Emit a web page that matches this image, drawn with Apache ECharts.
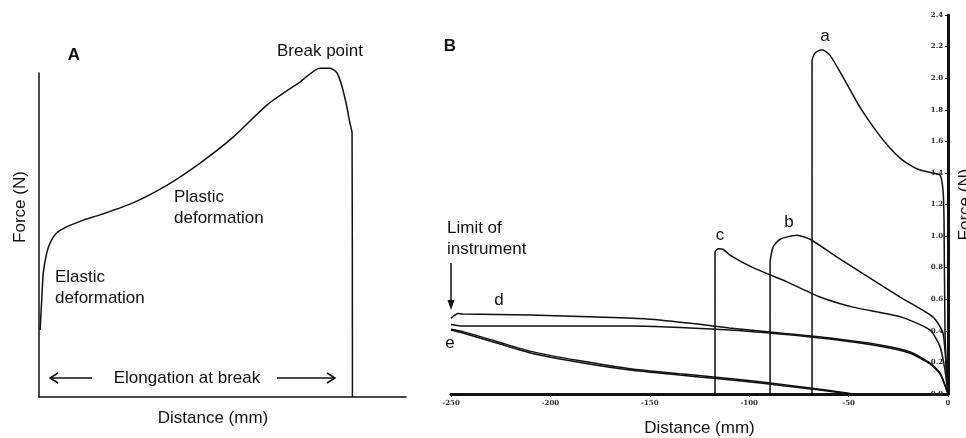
<!DOCTYPE html>
<html>
<head>
<meta charset="utf-8">
<script src="https://cdn.jsdelivr.net/npm/echarts@6/dist/echarts.min.js"></script>
<style>
  html, body { margin: 0; padding: 0; background: #fff; }
  #chart { width: 966px; height: 438px; }
</style>
</head>
<body>
<div id="chart"></div>
<script>
// ---------- Panel A (arbitrary units, no scale shown) ----------
const panelADistance = [0.3, 0.74, 1.17, 2.1, 3.0, 4.8, 7.5, 12.1, 16.6, 25.6, 34.9, 43.9, 52.9, 62.1, 71.1, 76.6, 79.3, 81.2, 82.6, 83.9, 84.7, 85.3, 85.4];
const panelAForce    = [20.7, 29.9, 38.3, 44.4, 47.5, 50.6, 52.5, 54.6, 56.2, 59.9, 65.4, 72.2, 80.2, 90.1, 97.2, 101.5, 101.5, 100, 95.7, 89.5, 84.6, 81.5, 0];

// ---------- Panel B (distance in mm, force in N) ----------
const curveA = [[-68.4, 0], [-68.4, 2.11], [-66.9, 2.16], [-63.4, 2.18], [-59.4, 2.146], [-52.8, 2.006], [-44.3, 1.816], [-35.7, 1.658], [-29.2, 1.557], [-24.1, 1.494], [-19.1, 1.449], [-14.1, 1.418], [-7.5, 1.40], [-4, 1.386], [-2.5, 1.29], [-2, 1.10], [-1.5, 0.386], [-0.5, 0.089], [0, 0]];
const curveB = [[-89.5, 0], [-89.5, 0.83], [-88, 0.93], [-84.5, 0.98], [-76, 1.006], [-69.4, 0.98], [-55.8, 0.867], [-39.2, 0.734], [-24.1, 0.614], [-7.5, 0.487], [-2.5, 0.386], [-0.5, 0.089], [0, 0]];
const curveC = [[-117.2, 0], [-117.2, 0.9], [-115.5, 0.92], [-113, 0.915], [-109.7, 0.88], [-98.1, 0.80], [-81, 0.71], [-64.4, 0.614], [-47.8, 0.55], [-24.1, 0.49], [-9, 0.405], [-4, 0.30], [-1.5, 0.15], [0, 0]];
const curveD = [[-250, 0.48], [-246.5, 0.51], [-244, 0.506], [-210, 0.50], [-176.6, 0.487], [-151.4, 0.475], [-126, 0.443], [-110, 0.418], [-84.5, 0.386], [-59.4, 0.354], [-34.2, 0.31], [-19, 0.266], [-9, 0.196], [-4, 0.133], [-1.5, 0.057], [0, 0]];
const curveDReturn = [[-250, 0.44], [-244, 0.43], [-210, 0.43], [-160, 0.43], [-110, 0.405], [-84.5, 0.38], [-59.4, 0.348], [-34.2, 0.303], [-19, 0.258], [-9, 0.19], [-4, 0.128], [-1.5, 0.052], [0, 0]];
const curveE = [[-250, 0.405], [-244, 0.386], [-227, 0.323], [-210, 0.26], [-185, 0.2], [-160, 0.152], [-135, 0.12], [-118, 0.1], [-94.6, 0.07], [-64.4, 0.025], [-49, 0]];
const curveEReturn = [[-250, 0.41], [-244, 0.395], [-227, 0.333], [-210, 0.27], [-185, 0.21], [-160, 0.16], [-135, 0.128], [-118, 0.108], [-94.6, 0.077], [-64.4, 0.03], [-49, 0.004]];

const bDistanceTicks = { min: -250, max: 0, interval: 50 };
const bForceTicks = { min: 0, max: 2.4, interval: 0.2 };

const FONT = 'Liberation Sans, Arial, sans-serif';
const INK = '#111';

const chart = echarts.init(document.getElementById('chart'), null, { renderer: 'canvas' });

function txt(text, x, y, opts) {
  opts = opts || {};
  return {
    type: 'text', x: x, y: y, rotation: opts.rotation || 0, z: 10,
    style: {
      text: text, fill: INK,
      font: (opts.bold ? 'bold ' : '') + (opts.size || 17) + 'px ' + FONT,
      textAlign: opts.align || 'left', textVerticalAlign: 'middle'
    }
  };
}
function poly(points, w) {
  return { type: 'polyline', z: 10, shape: { points: points }, style: { stroke: INK, lineWidth: w || 1.5, fill: null } };
}

const lineStyle = { color: INK, width: 1.5 };

const option = {
  animation: false,
  backgroundColor: '#fff',
  grid: [
    { left: 39, top: 73, width: 367, height: 324, containLabel: false, outerBoundsMode: 'none' },
    { left: 451, top: 15, width: 497, height: 379, containLabel: false, outerBoundsMode: 'none' }
  ],
  xAxis: [
    { gridIndex: 0, type: 'value', min: 0, max: 100,
      axisLine: { show: true, onZero: false, lineStyle: { color: INK, width: 1.5 } },
      axisTick: { show: false }, axisLabel: { show: false }, splitLine: { show: false } },
    { gridIndex: 1, type: 'value', min: bDistanceTicks.min, max: bDistanceTicks.max, interval: bDistanceTicks.interval,
      name: 'Distance (mm)', nameLocation: 'middle', nameGap: 26,
      nameTextStyle: { fontFamily: FONT, fontSize: 17, color: INK },
      axisLine: { show: true, onZero: false, lineStyle: { color: INK, width: 3 } },
      axisTick: { show: true, length: 3, lineStyle: { color: INK, width: 1 } },
      axisLabel: { show: true, fontFamily: 'DejaVu Serif, serif', fontWeight: 'bold', fontSize: 7, color: '#333', margin: 6,
        showMinLabel: true, showMaxLabel: true, formatter: v => String(v) },
      splitLine: { show: false } }
  ],
  yAxis: [
    { gridIndex: 0, type: 'value', min: 0, max: 100,
      axisLine: { show: true, onZero: false, lineStyle: { color: INK, width: 1.5 } },
      axisTick: { show: false }, axisLabel: { show: false }, splitLine: { show: false } },
    { gridIndex: 1, type: 'value', position: 'right', min: bForceTicks.min, max: bForceTicks.max, interval: bForceTicks.interval,
      name: 'Force (N)', nameLocation: 'middle', nameGap: 4, nameRotate: 90,
      nameTextStyle: { fontFamily: FONT, fontSize: 17, color: INK },
      axisLine: { show: true, onZero: false, lineStyle: { color: INK, width: 3 } },
      axisTick: { show: true, inside: true, length: 3, lineStyle: { color: INK, width: 1 } },
      axisLabel: { show: true, inside: true, fontFamily: 'DejaVu Serif, serif', fontWeight: 'bold', fontSize: 7, color: '#333', margin: 5,
        showMinLabel: true, showMaxLabel: true, formatter: v => v.toFixed(1) },
      splitLine: { show: false } }
  ],
  series: [
    { name: 'A', type: 'line', xAxisIndex: 0, yAxisIndex: 0, smooth: 0.25, symbol: 'none', clip: false,
      lineStyle: lineStyle, data: panelADistance.map((d, i) => [d, panelAForce[i]]) },
    { name: 'a', type: 'line', xAxisIndex: 1, yAxisIndex: 1, smooth: 0.2, symbol: 'none', clip: false, lineStyle: lineStyle, data: curveA },
    { name: 'b', type: 'line', xAxisIndex: 1, yAxisIndex: 1, smooth: 0.2, symbol: 'none', clip: false, lineStyle: lineStyle, data: curveB },
    { name: 'c', type: 'line', xAxisIndex: 1, yAxisIndex: 1, smooth: 0.2, symbol: 'none', clip: false, lineStyle: lineStyle, data: curveC },
    { name: 'd', type: 'line', xAxisIndex: 1, yAxisIndex: 1, smooth: 0.2, symbol: 'none', clip: false, lineStyle: lineStyle, data: curveD },
    { name: 'd return', type: 'line', xAxisIndex: 1, yAxisIndex: 1, smooth: 0.2, symbol: 'none', clip: false, lineStyle: lineStyle, data: curveDReturn },
    { name: 'e', type: 'line', xAxisIndex: 1, yAxisIndex: 1, smooth: 0.2, symbol: 'none', clip: false, lineStyle: lineStyle, data: curveE },
    { name: 'e return', type: 'line', xAxisIndex: 1, yAxisIndex: 1, smooth: 0.2, symbol: 'none', clip: false, lineStyle: lineStyle, data: curveEReturn }
  ],
  graphic: [
    // Panel A annotations
    txt('A', 74, 55, { bold: true, align: 'center' }),
    txt('Break point', 320, 51, { align: 'center' }),
    txt('Plastic', 174, 197),
    txt('deformation', 174, 218),
    txt('Elastic', 55, 277),
    txt('deformation', 55, 298),
    txt('Elongation at break', 187, 378, { align: 'center' }),
    poly([[50, 378], [92, 378]]),
    poly([[58, 373], [50, 378], [58, 383]]),
    poly([[277, 378], [335, 378]]),
    poly([[327, 373], [335, 378], [327, 383]]),
    txt('Force (N)', 20, 207, { align: 'center', rotation: Math.PI / 2 }),
    txt('Distance (mm)', 213, 418, { align: 'center' }),
    // Panel B annotations
    txt('B', 450, 46, { bold: true, align: 'center' }),
    txt('a', 825, 36, { align: 'center' }),
    txt('b', 789, 222, { align: 'center' }),
    txt('c', 720, 235, { align: 'center' }),
    txt('d', 499, 300, { align: 'center' }),
    txt('e', 450, 343, { align: 'center' }),
    txt('Limit of', 447, 228),
    txt('instrument', 447, 249),
    poly([[451, 263], [451, 302]]),
    { type: 'polygon', z: 10, shape: { points: [[447.5, 300], [454.5, 300], [451, 310]] }, style: { fill: INK } }
  ]
};

chart.setOption(option);
</script>
</body>
</html>
